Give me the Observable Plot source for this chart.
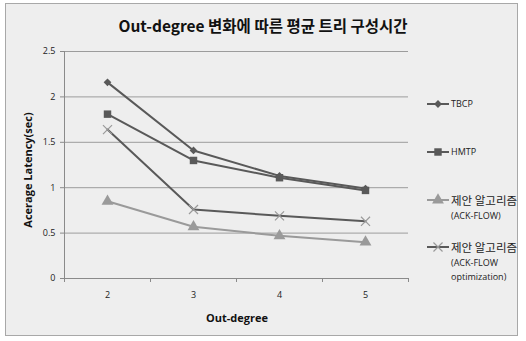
<!DOCTYPE html>
<html><head><meta charset="utf-8">
<script src="https://cdn.jsdelivr.net/npm/d3@7"></script>
<script src="https://cdn.jsdelivr.net/npm/@observablehq/plot@0.6"></script>
<style>
body{margin:0;background:#fff;font-family:"Open Sans","Noto Sans CJK KR",sans-serif;}
#wrap{position:relative;width:526px;height:341px;overflow:hidden;}
#frame{position:absolute;left:5px;top:3px;width:513px;height:333px;border:1px solid #a8a8a8;background:#eeeeee;box-sizing:border-box;}
#title{position:absolute;left:0;width:526px;top:14px;text-align:center;font-weight:bold;font-size:15.5px;font-family:"Noto Sans CJK KR","Open Sans",sans-serif;color:#111;}
#chart{position:absolute;left:0;top:0;}
#ylab{position:absolute;left:27px;top:170px;transform:translate(-50%,-50%) rotate(-90deg);font-weight:bold;font-size:11px;white-space:nowrap;color:#111;}
#xlab{position:absolute;left:237px;top:317px;transform:translate(-50%,-50%);font-weight:bold;font-size:11px;white-space:nowrap;color:#111;}
.leg{position:absolute;left:427px;}
.leg svg{position:absolute;left:0;top:0;overflow:visible;}
.lt{position:absolute;left:24px;white-space:nowrap;color:#222;}
.kr{font-family:"Noto Sans CJK KR",sans-serif;font-size:11.5px;}
.en{font-size:9px;}
</style></head>
<body>
<div id="wrap">
  <div id="frame"></div>
  <div id="title">Out-degree 변화에 따른 평균 트리 구성시간</div>
  <div id="chart"></div>
  <div id="ylab">Acerage Latency(sec)</div>
  <div id="xlab">Out-degree</div>
  <div id="legend"></div>
</div>
<script>
const outDegree = [2, 3, 4, 5];
const tbcp = [2.16, 1.41, 1.13, 0.99];
const hmtp = [1.81, 1.30, 1.11, 0.97];
const ackFlow = [0.85, 0.57, 0.47, 0.40];
const ackFlowOpt = [1.64, 0.76, 0.69, 0.63];
const yTicks = [0, 0.5, 1, 1.5, 2, 2.5];
const xBounds = [1.5, 2.5, 3.5, 4.5, 5.5];

// square rotated 45 degrees
const rhombus = {
  draw(context, size) {
    const h = Math.sqrt(size) / 2 * Math.SQRT2;
    context.moveTo(0, -h); context.lineTo(h, 0); context.lineTo(0, h); context.lineTo(-h, 0); context.closePath();
  }
};
const symbolOf = {rhombus, square: d3.symbolSquare, triangle: d3.symbolTriangle, times: d3.symbolTimes};

const series = [
  {key: "TBCP", values: tbcp, stroke: "#595959", symbol: "rhombus", r: 3.1, fill: "#595959", mstroke: "none"},
  {key: "HMTP", values: hmtp, stroke: "#595959", symbol: "square", r: 4.2, fill: "#595959", mstroke: "none"},
  {key: "ACK-FLOW", values: ackFlow, stroke: "#9a9a9a", symbol: "triangle", r: 4.4, fill: "#9a9a9a", mstroke: "none"},
  {key: "ACK-FLOW optimization", values: ackFlowOpt, stroke: "#595959", symbol: "times", r: 4.2, fill: "none", mstroke: "#9a9a9a"}
];

const marks = [
  Plot.gridY(yTicks.slice(1), {stroke: "#9c9c9c", strokeOpacity: 1}),
  Plot.ruleX([xBounds[0]], {stroke: "#8a8a8a"}),
  Plot.ruleY([0], {stroke: "#8a8a8a"}),
  Plot.axisY({ticks: yTicks, tickSize: 4, tickPadding: 5, tickFormat: d => String(d), label: null, stroke: "#8a8a8a", color: "#222", fontSize: 9}),
  Plot.axisX({ticks: xBounds, tickSize: 4, tickFormat: () => "", label: null, stroke: "#8a8a8a"}),
  Plot.axisX({ticks: outDegree, tickSize: 0, tickPadding: 13, tickFormat: d => String(d), label: null, color: "#222", fontSize: 9})
];
for (const s of series) {
  const data = outDegree.map((x, i) => ({x, y: s.values[i]}));
  marks.push(Plot.line(data, {x: "x", y: "y", stroke: s.stroke, strokeWidth: 2}));
  marks.push(Plot.dot(data, {x: "x", y: "y", symbol: symbolOf[s.symbol], r: s.r, fill: s.fill, stroke: s.mstroke, strokeWidth: 1.2}));
}

const chart = Plot.plot({
  width: 526, height: 341,
  marginLeft: 64, marginRight: 118, marginTop: 51, marginBottom: 63,
  style: {background: "transparent", fontFamily: "'Open Sans', sans-serif", fontSize: "9px", color: "#222"},
  x: {type: "linear", domain: [1.5, 5.5]},
  y: {domain: [0, 2.5]},
  marks
});
document.getElementById("chart").appendChild(chart);

// legend
const legendItems = [
  {top: 104, lines: [["en", "TBCP"]]},
  {top: 152, lines: [["en", "HMTP"]]},
  {top: 200, lines: [["kr", "제안 알고리즘"], ["en", "(ACK-FLOW)"]]},
  {top: 247, lines: [["kr", "제안 알고리즘"], ["en", "(ACK-FLOW"], ["en", "optimization)"]]}
];
const legend = document.getElementById("legend");
legendItems.forEach((it, i) => {
  const s = series[i];
  const d = document.createElement("div");
  d.className = "leg";
  d.style.top = it.top + "px";
  const sym = d3.symbol(symbolOf[s.symbol], s.r * s.r * Math.PI)();
  d.innerHTML = `<svg width="22" height="1"><line x1="0" x2="22" y1="0" y2="0" stroke="${s.stroke}" stroke-width="2"/><path transform="translate(11,0)" d="${sym}" fill="${s.fill}" stroke="${s.mstroke}" stroke-width="1.2"/></svg>` +
    it.lines.map((l, j) => `<div class="lt ${l[0]}" style="top:${j === 0 ? -8 : 8 + (j - 1) * 14}px;line-height:16px">${l[1]}</div>`).join("");
  legend.appendChild(d);
});
</script>
</body></html>
